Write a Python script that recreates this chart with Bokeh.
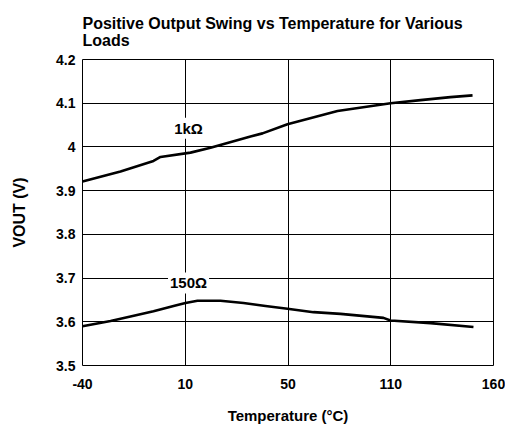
from bokeh.plotting import figure
from bokeh.models import Range1d, FixedTicker, Label
from bokeh.embed import file_html
from bokeh.resources import INLINE

# x positions are in axis slots: the temperature axis is evenly divided at -40, 10, 50, 110, 160
temp_ticks = [0, 1, 2, 3, 4]
temp_labels = ["-40", "10", "50", "110", "160"]
v_ticks = [3.5, 3.6, 3.7, 3.8, 3.9, 4.0, 4.1, 4.2]
v_labels = ["3.5", "3.6", "3.7", "3.8", "3.9", "4", "4.1", "4.2"]

x_1k = [0.000, 0.370, 0.691, 0.759, 1.051, 1.246, 1.635, 1.752, 1.995, 2.482, 2.998, 3.290, 3.581, 3.796]
v_1k = [3.921, 3.944, 3.968, 3.977, 3.987, 3.998, 4.024, 4.031, 4.052, 4.082, 4.100, 4.107, 4.114, 4.118]

x_150 = [0.000, 0.273, 0.467, 0.691, 0.905, 1.002, 1.119, 1.343, 1.567, 1.781, 1.995, 2.248, 2.511, 2.929, 2.998, 3.387, 3.805]
v_150 = [3.590, 3.602, 3.612, 3.624, 3.637, 3.643, 3.648, 3.648, 3.643, 3.636, 3.630, 3.622, 3.618, 3.609, 3.603, 3.597, 3.588]

FONT = "Liberation Sans"

p = figure(width=505, height=426, output_backend="svg", toolbar_location=None,
           x_range=Range1d(0, 4), y_range=Range1d(3.5, 4.2),
           min_border_left=82, min_border_right=12, min_border_top=59, min_border_bottom=50)

p.title.text = "Positive Output Swing vs Temperature for Various\nLoads"
p.title.text_font = FONT
p.title.text_font_size = "16px"
p.title.text_font_style = "bold"
p.title.text_color = "black"
p.title.align = "left"
p.title.standoff = 22

p.outline_line_color = "black"
p.outline_line_width = 1
p.outline_line_alpha = 1

for ax in (p.xaxis[0], p.yaxis[0]):
    ax.axis_line_color = None
    ax.major_tick_line_color = None
    ax.minor_tick_line_color = None
    ax.major_label_text_font = FONT
    ax.major_label_text_font_size = "14px"
    ax.major_label_text_font_style = "bold"
    ax.major_label_text_color = "black"
    ax.axis_label_text_font = FONT
    ax.axis_label_text_font_size = "15px"
    ax.axis_label_text_font_style = "bold"
    ax.axis_label_text_color = "black"

p.xaxis.ticker = FixedTicker(ticks=temp_ticks)
p.xaxis.major_label_overrides = dict(zip(temp_ticks, temp_labels))
p.xaxis.major_label_standoff = 7
p.xaxis.axis_label = "Temperature (°C)"
p.xaxis.axis_label_standoff = 15

p.yaxis.ticker = FixedTicker(ticks=v_ticks)
p.yaxis.major_label_overrides = dict(zip(v_ticks, v_labels))
p.yaxis.major_tick_out = 0
p.yaxis.major_tick_in = 0
p.yaxis.major_label_standoff = 7
p.yaxis.axis_label = "VOUT (V)"
p.yaxis.axis_label_text_font_size = "16px"
p.yaxis.axis_label_standoff = 25

p.xgrid.ticker = FixedTicker(ticks=temp_ticks)
p.ygrid.ticker = FixedTicker(ticks=v_ticks)
for g in (p.xgrid[0], p.ygrid[0]):
    g.grid_line_color = "black"
    g.grid_line_width = 1
    g.grid_line_alpha = 1

p.line(x_1k, v_1k, line_color="black", line_width=2.6, line_join="round")
p.line(x_150, v_150, line_color="black", line_width=2.6, line_join="round")

for txt, lx, ly in (("1kΩ", 1.032, 4.043), ("150Ω", 1.032, 3.689)):
    p.add_layout(Label(x=lx, y=ly, text=txt, text_align="center", text_baseline="middle",
                       text_font=FONT, text_font_size="15px", text_font_style="bold",
                       text_color="black", background_fill_color="white",
                       padding=2))

open("out.html", "w").write(file_html(p, INLINE))
